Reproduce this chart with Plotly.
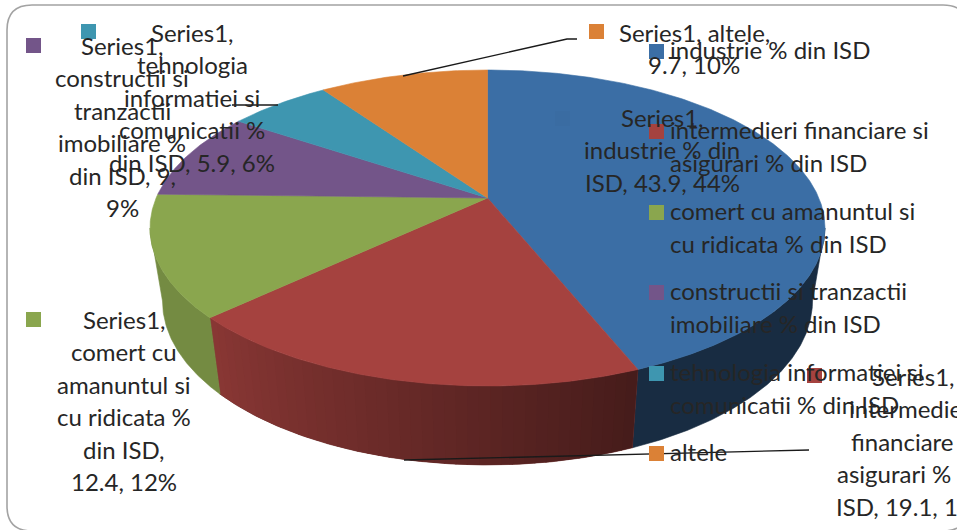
import math
import plotly.graph_objects as go

# ---------- data ----------
categories = ["industrie % din ISD", "intermedieri financiare si asigurari % din ISD",
              "comert cu amanuntul si cu ridicata % din ISD",
              "constructii si tranzactii imobiliare % din ISD",
              "tehnologia informatiei si comunicatii % din ISD", "altele"]
values = [43.9, 19.1, 12.4, 9.0, 5.9, 9.7]
top_colors = ["#3b6ea5", "#a5423f", "#8aa64e", "#735589", "#3e96b0", "#db8136"]

legend_lines = [["industrie % din ISD"],
                ["intermedieri financiare si", "asigurari % din ISD"],
                ["comert cu amanuntul si", "cu ridicata % din ISD"],
                ["constructii si tranzactii", "imobiliare % din ISD"],
                ["tehnologia informatiei si", "comunicatii % din ISD"],
                ["altele"]]
label_lines = [["Series1,", "industrie % din", "ISD, 43.9, 44%"],
               ["Series1,", "intermedieri", "financiare si", "asigurari % din", "ISD, 19.1, 19%"],
               ["Series1,", "comert cu", "amanuntul si", "cu ridicata %", "din ISD,", "12.4, 12%"],
               ["Series1,", "constructii si", "tranzactii", "imobiliare %", "din ISD, 9,", "9%"],
               ["Series1,", "tehnologia", "informatiei si", "comunicatii %", "din ISD, 5.9, 6%"],
               ["Series1, altele,", "9.7, 10%"]]

# ---------- layout constants ----------
W, H = 957, 530
FONT = "Lato"
FS = 24
TXT = "#262626"
CX = 487.5
APEX_Y = 198
T_RX, T_RY, T_CY = 337.5, 158, 228      # top ellipse
B_RX, B_RY, B_CY = 325, 164, 301        # bottom ellipse
e = (T_CY - APEX_Y) / T_RY
a = e / (1 + math.sqrt(1 - e * e))
K = (1 - a) / (1 + a)


def phi_of(theta):
    """Perspective map: true pie angle to parameter on the projected rim."""
    t = math.radians(theta) / 2
    if abs(math.cos(t)) < 1e-9:
        return theta
    p = 2 * math.atan(K * math.tan(t))
    if p < 0:
        p += 2 * math.pi
    return math.degrees(p)


def rim(phi, rx, ry, cy):
    r = math.radians(phi)
    return CX + rx * math.sin(r), cy - ry * math.cos(r)


def shade(hex_color, f):
    c = [int(hex_color[i:i + 2], 16) for i in (1, 3, 5)]
    return "rgb(%d,%d,%d)" % tuple(round(v * f) for v in c)


def side_factor(phi):
    if phi <= 153.5:
        return 0.40
    if phi >= 235.3:
        return 0.84
    return 0.42 + (phi - 153.5) / (235.3 - 153.5) * 0.41


fig = go.Figure()


def poly(xs, ys, color, lw=0.6):
    fig.add_trace(go.Scatter(x=xs, y=ys, mode="lines", fill="toself", fillcolor=color,
                             line=dict(color=color, width=lw), hoverinfo="skip",
                             showlegend=False))


def side_points(a0, a1):
    n = max(2, int((a1 - a0) * 2) + 2)
    angs = [a0 + (a1 - a0) * j / (n - 1) for j in range(n)]
    top = [rim(q, T_RX, T_RY, T_CY) for q in angs]
    bot = [rim(q, B_RX, B_RY, B_CY) for q in reversed(angs)]
    pts = top + bot + [top[0]]
    return [q[0] for q in pts], [q[1] for q in pts]


total = sum(values)
cum = 0.0
edges = []
for v in values:
    edges.append((cum / total * 360, (cum + v) / total * 360))
    cum += v

# side walls: only the front half (parameter 90..270) can be seen
for i in range(3):
    p0 = max(phi_of(edges[i][0]), 90)
    p1 = min(phi_of(edges[i][1]), 270)
    mid = shade(top_colors[i], side_factor((p0 + p1) / 2))
    xs, ys = side_points(p0, p1)
    poly(xs, ys, mid)
    if i == 1:
        bands = 41
        for b in range(bands):
            a0 = p0 + (p1 - p0) * b / bands
            a1 = p0 + (p1 - p0) * (b + 1) / bands + 0.25
            xs, ys = side_points(a0, min(a1, p1))
            poly(xs, ys, shade(top_colors[i], side_factor((a0 + a1) / 2)), lw=0)

# top faces
for i, (t0, t1) in enumerate(edges):
    n = max(3, int(t1 - t0) * 2)
    pts = [(CX, APEX_Y)]
    p0, p1 = phi_of(t0), phi_of(t1) if t1 < 360 else 360
    for j in range(n + 1):
        pts.append(rim(p0 + (p1 - p0) * j / n, T_RX, T_RY, T_CY))
    pts.append((CX, APEX_Y))
    poly([q[0] for q in pts], [q[1] for q in pts], top_colors[i])

# leader lines
leaders = [([403, 567, 577], [76, 39, 39]),
           ([232, 278], [105, 105]),
           ([404, 809], [460, 450])]
for xs, ys in leaders:
    fig.add_trace(go.Scatter(x=xs, y=ys, mode="lines", line=dict(color="#1a1a1a", width=1.4),
                             hoverinfo="skip", showlegend=False))

annotations = []
shapes = []


def text(s, x, y, anchor):
    annotations.append(dict(text=s, x=x, y=y, xref="x", yref="y", xanchor=anchor, yanchor="middle",
                            showarrow=False, font=dict(family=FONT, size=FS, color=TXT)))


def swatch(x, y, color):
    shapes.append(dict(type="rect", x0=x, x1=x + 15, y0=y, y1=y + 15, xref="x", yref="y",
                       fillcolor=color, line=dict(width=0)))


# data labels: marker position, text centre x, first line y
label_pos = [((555, 111), 662, 117, "#3a6ca2"),
             ((807, 368), 913, 376, top_colors[1]),
             ((26, 312), 124, 319, top_colors[2]),
             ((26, 38), 122, 45, top_colors[3]),
             ((81, 24), 192, 32, top_colors[4]),
             ((589, 24), 694, 32, top_colors[5])]
for lines, (mk, lx, ly, col) in zip(label_lines, label_pos):
    swatch(mk[0], mk[1], col)
    for j, s in enumerate(lines):
        text(s, lx, ly + j * 32.5, "center")

# legend
legend_y = [44, 124, 205, 285, 366, 446]
for lines, y, col in zip(legend_lines, legend_y, top_colors):
    swatch(649, y, col)
    for j, s in enumerate(lines):
        text(s, 668, y + 5.5 + j * 32.5, "left")

# outer rounded frame
shapes.append(dict(type="path", xref="x", yref="y", layer="below",
                   path="M 7 30 Q 7 5 32 5 L 943 5 Q 968 5 968 30 L 968 506 Q 968 531 943 531 "
                        "L 32 531 Q 7 531 7 506 Z",
                   line=dict(color="#a3a3a3", width=1.6), fillcolor="rgba(0,0,0,0)"))

fig.update_layout(width=W, height=H, margin=dict(l=0, r=0, t=0, b=0),
                  paper_bgcolor="white", plot_bgcolor="white", showlegend=False,
                  xaxis=dict(range=[0, W], visible=False, fixedrange=True),
                  yaxis=dict(range=[H, 0], visible=False, fixedrange=True),
                  annotations=annotations, shapes=shapes)
fig.write_html("out.html", config={"displayModeBar": False},
               post_script="document.body.style.margin='0';document.body.style.overflow='hidden';")
